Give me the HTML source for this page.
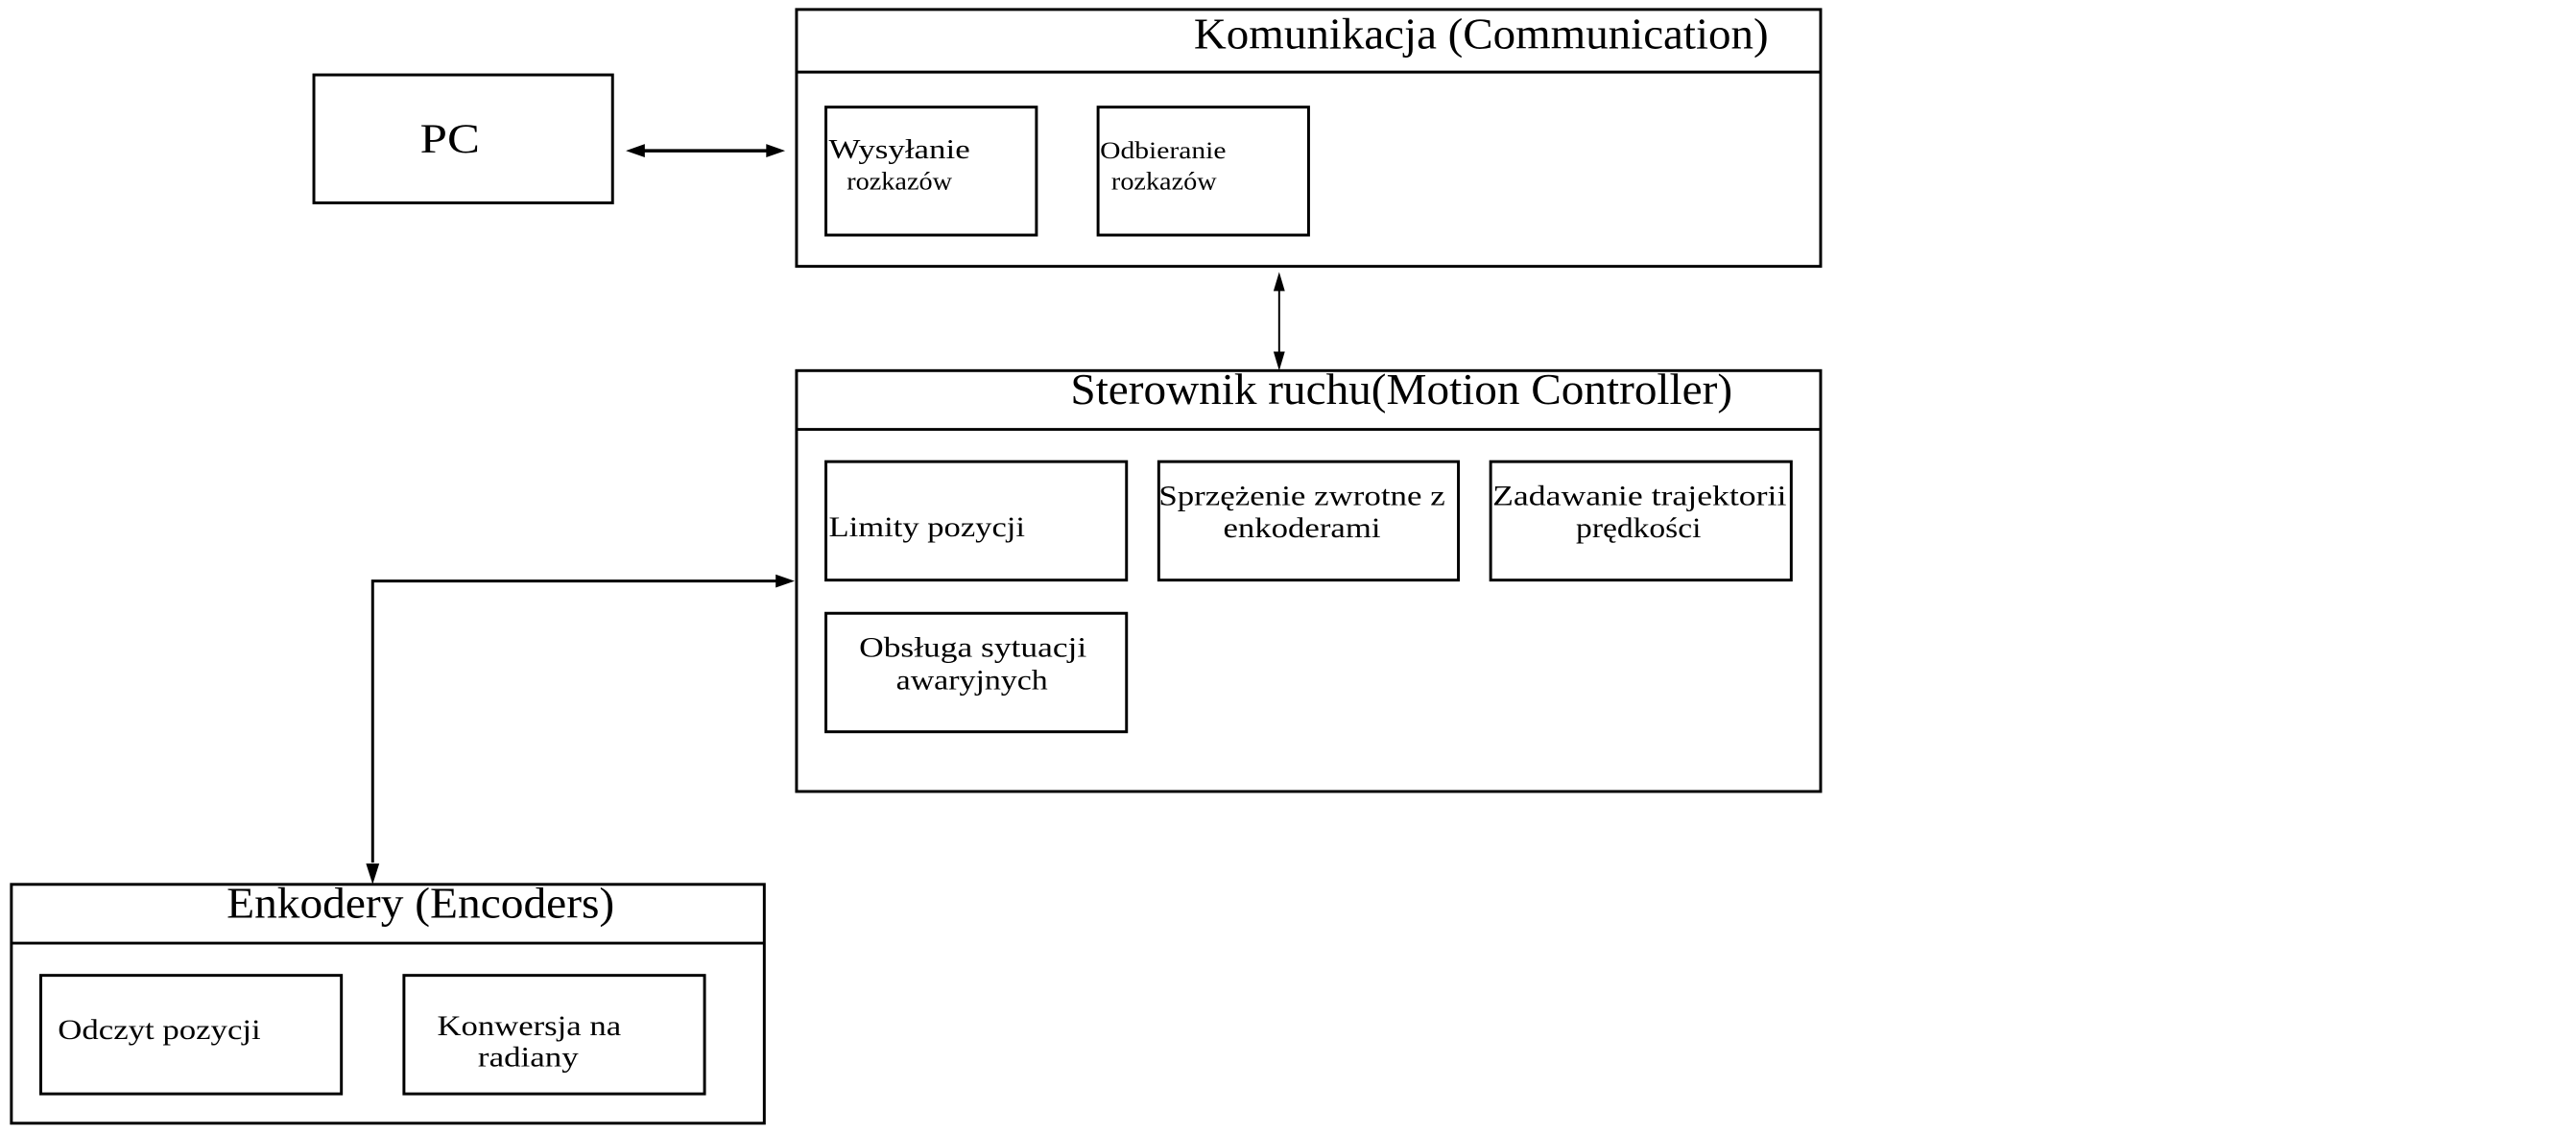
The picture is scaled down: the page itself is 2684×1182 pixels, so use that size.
<!DOCTYPE html>
<html><head><meta charset="utf-8"><style>
html,body{margin:0;padding:0;background:#fff;}
svg{display:block;}
text{font-family:"Liberation Serif","DejaVu Serif",serif;fill:#000;}
</style></head><body>
<svg width="2684" height="1182" viewBox="0 0 2684 1182" xmlns="http://www.w3.org/2000/svg">
<g transform="scale(0.988)">
<g fill="none" stroke="#000" stroke-width="3">
<rect x="840" y="10" width="1080" height="271"/>
<line x1="840" y1="76" x2="1920" y2="76"/>
<rect x="871" y="113" width="222" height="135"/>
<rect x="1158" y="113" width="222" height="135"/>
<rect x="331" y="79" width="315" height="135"/>
<rect x="840" y="391" width="1080" height="444"/>
<line x1="840" y1="453" x2="1920" y2="453"/>
<rect x="871" y="487" width="317" height="125"/>
<rect x="1222" y="487" width="316" height="125"/>
<rect x="1572" y="487" width="317" height="125"/>
<rect x="871" y="647" width="317" height="125"/>
<rect x="12" y="933" width="794" height="252"/>
<line x1="12" y1="995" x2="806" y2="995"/>
<rect x="43" y="1029" width="317" height="125"/>
<rect x="426" y="1029" width="317" height="125"/>
<line x1="676" y1="159" x2="812" y2="159" stroke-width="3.5"/>
<line x1="1349" y1="305" x2="1349" y2="372" stroke-width="2"/>
<polyline points="820,613 393,613 393,910"/>
</g>
<g fill="#000" stroke="none">
<polygon points="660,159 680,152 680,166"/>
<polygon points="828,159 808,152 808,166"/>
<polygon points="1349,287 1343,307 1355,307"/>
<polygon points="1349,391 1343,371 1355,371"/>
<polygon points="838,613 818,606 818,620"/>
<polygon points="393,933 386,911 400,911"/>
</g>
<text x="1259" y="51" font-size="46" textLength="606" lengthAdjust="spacingAndGlyphs">Komunikacja (Communication)</text>
<text x="443" y="161" font-size="44" textLength="63" lengthAdjust="spacingAndGlyphs">PC</text>
<text x="874" y="167" font-size="29" textLength="149" lengthAdjust="spacingAndGlyphs">Wysyłanie</text>
<text x="893" y="200" font-size="27" textLength="111" lengthAdjust="spacingAndGlyphs">rozkazów</text>
<text x="1160" y="167" font-size="26" textLength="133" lengthAdjust="spacingAndGlyphs">Odbieranie</text>
<text x="1172" y="200" font-size="27" textLength="111" lengthAdjust="spacingAndGlyphs">rozkazów</text>
<text x="1129" y="426" font-size="46" textLength="698" lengthAdjust="spacingAndGlyphs">Sterownik ruchu(Motion Controller)</text>
<text x="874" y="566" font-size="30" textLength="207" lengthAdjust="spacingAndGlyphs">Limity pozycji</text>
<text x="1222" y="533" font-size="30" textLength="302" lengthAdjust="spacingAndGlyphs">Sprzężenie zwrotne z</text>
<text x="1290" y="567" font-size="30" textLength="166" lengthAdjust="spacingAndGlyphs">enkoderami</text>
<text x="1574" y="533" font-size="30" textLength="310" lengthAdjust="spacingAndGlyphs">Zadawanie trajektorii</text>
<text x="1662" y="567" font-size="30" textLength="132" lengthAdjust="spacingAndGlyphs">prędkości</text>
<text x="906" y="693" font-size="30" textLength="240" lengthAdjust="spacingAndGlyphs">Obsługa sytuacji</text>
<text x="945" y="727" font-size="30" textLength="160" lengthAdjust="spacingAndGlyphs">awaryjnych</text>
<text x="239" y="968" font-size="46" textLength="409" lengthAdjust="spacingAndGlyphs">Enkodery (Encoders)</text>
<text x="61" y="1096" font-size="30" textLength="214" lengthAdjust="spacingAndGlyphs">Odczyt pozycji</text>
<text x="461" y="1092" font-size="30" textLength="194" lengthAdjust="spacingAndGlyphs">Konwersja na</text>
<text x="504" y="1125" font-size="30" textLength="106" lengthAdjust="spacingAndGlyphs">radiany</text>
</g>
</svg>
</body></html>
